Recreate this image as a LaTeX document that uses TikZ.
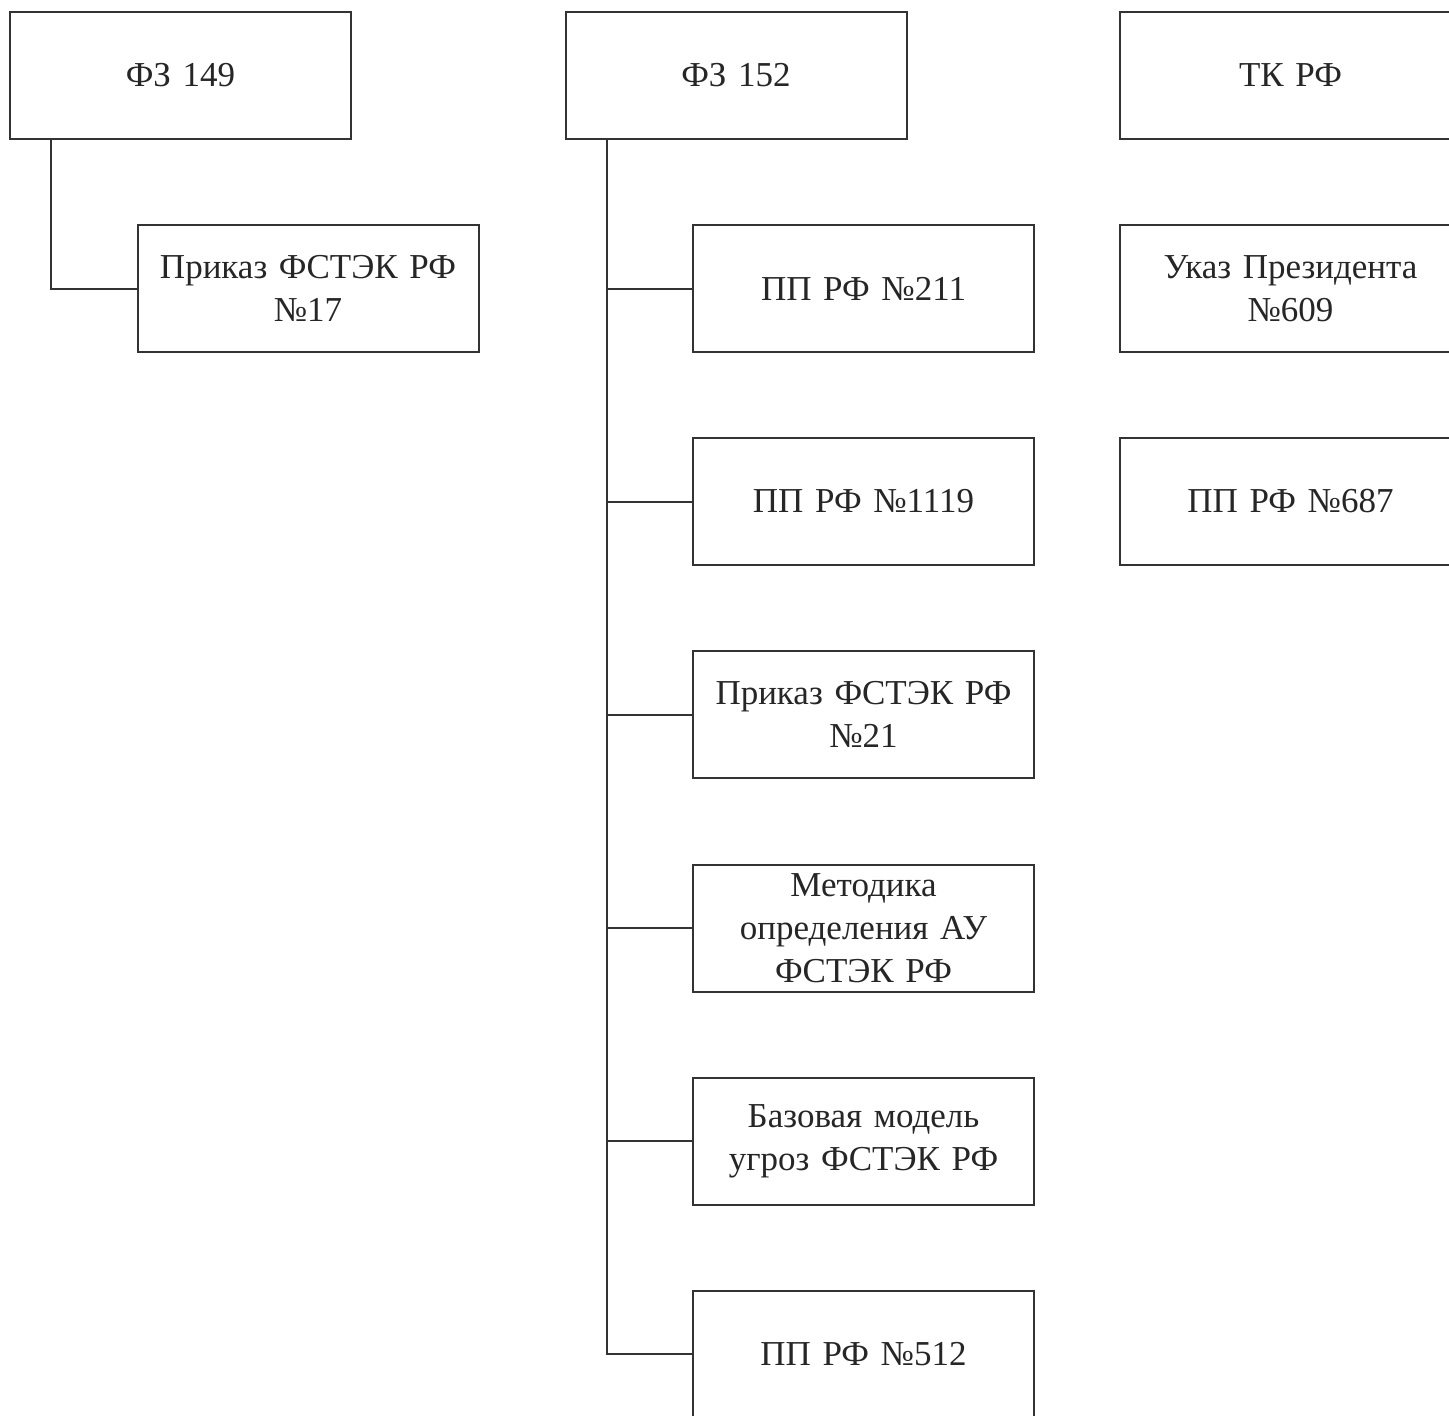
\documentclass[tikz,border=0pt]{standalone}
\usepackage{fontspec}
\setmainfont{Liberation Serif}
\begin{document}
\begin{tikzpicture}[x=0.5pt,y=-0.5pt,
  docbox/.style={draw=black!80, line width=1pt, fill=white, minimum width=170.5pt, minimum height=63.5pt,
    inner sep=0pt, text width=165pt, align=center, text=black!85,
    font=\fontsize{17.5pt}{21.5pt}\selectfont},
  link/.style={draw=black!80, line width=1pt}]
\useasboundingbox (0,0) rectangle (1449,1415);
\clip (0,0) rectangle (1449,1415);
\fill[white] (0,0) rectangle (1449,1415);
% column 1
\node[docbox] (fz149) at (180.5,75.5) {ФЗ 149};
\node[docbox] (pr17) at (308,288.5) {Приказ ФСТЭК РФ\\№17};
% column 2
\node[docbox] (fz152) at (736,75.5) {ФЗ 152};
\node[docbox] (pp211) at (863.5,288.5) {ПП РФ №211};
\node[docbox] (pp1119) at (863.5,501.5) {ПП РФ №1119};
\node[docbox] (pr21) at (863.5,714.5) {Приказ ФСТЭК РФ\\№21};
\node[docbox] (met) at (863.5,928) {Методика\\определения АУ\\ФСТЭК РФ};
\node[docbox] (baz) at (863.5,1141) {Базовая модель\\угроз ФСТЭК РФ};
\node[docbox] (pp512) at (863.5,1354) {ПП РФ №512};
% column 3
\node[docbox] (tk) at (1290.5,75.5) {ТК РФ};
\node[docbox] (uk609) at (1290.5,288.5) {Указ Президента\\№609};
\node[docbox] (pp687) at (1290.5,501.5) {ПП РФ №687};
% connectors
\coordinate (t149) at ([xshift=21pt]fz149.south west);
\coordinate (t152) at ([xshift=21pt]fz152.south west);
\draw[link] (t149) |- (pr17.west);
\draw[link] (t152) |- (pp512.west);
\foreach \n in {pp211,pp1119,pr21,met,baz}{
  \draw[link] (t152 |- \n.west) -- (\n.west);
}
\end{tikzpicture}
\end{document}
